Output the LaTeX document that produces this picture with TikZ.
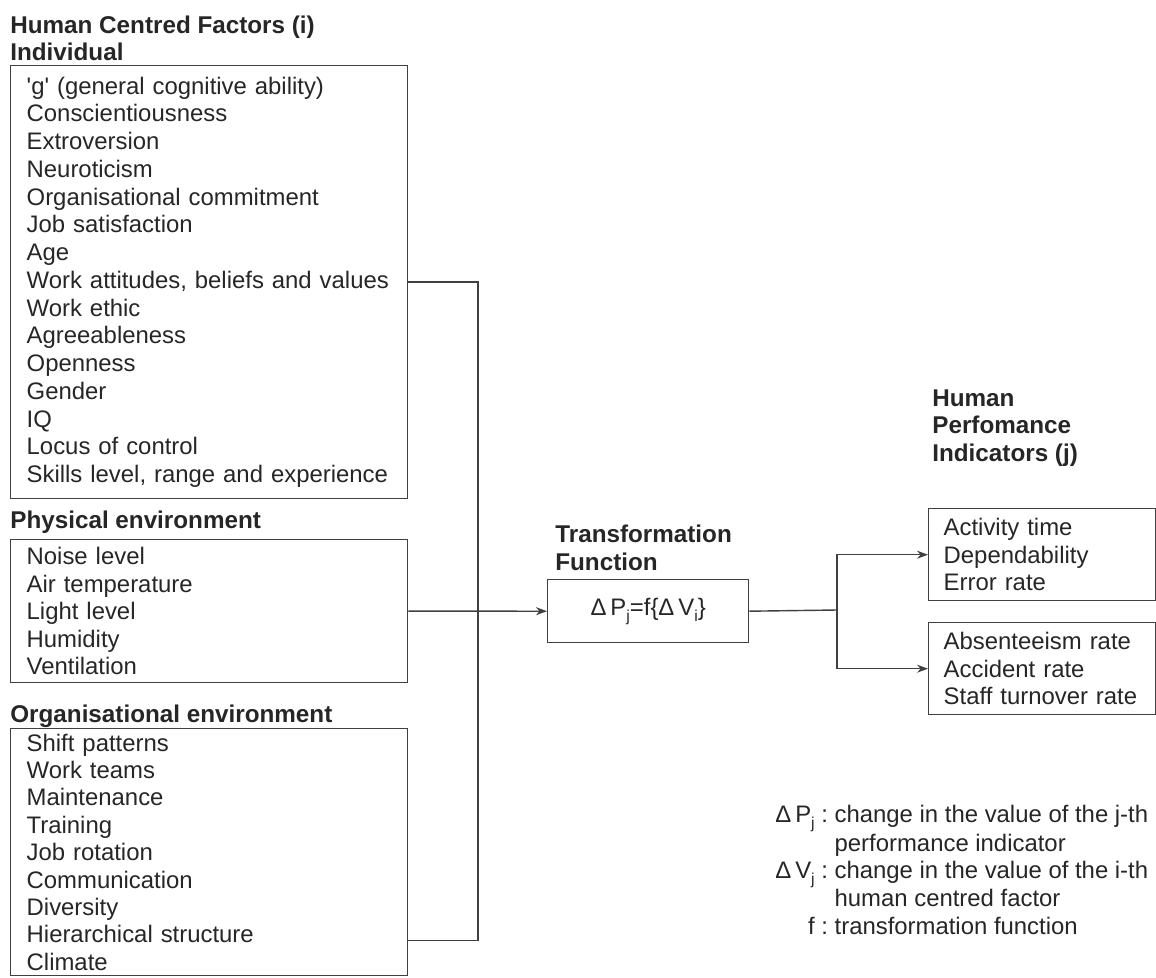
\documentclass[tikz,border=0pt]{standalone}
\usepackage{fontspec}
\setmainfont{Liberation Sans}
\usetikzlibrary{arrows.meta}
\usetikzlibrary{positioning}
\usetikzlibrary{calc}

\newcommand{\lowidx}[1]{\raisebox{-0.5ex}{\small #1}}

\begin{document}
\begin{tikzpicture}[x=0.02cm, y=-0.02cm,
    every node/.style={font=\fontsize{13.6}{15.8}\selectfont, text=black!85},
    head/.style={anchor=west, inner sep=0pt, align=left, font=\fontsize{13.8}{15.6}\selectfont\bfseries},
    factor box/.style={draw=black!75, line width=0.8pt, anchor=north west, align=left,
      text width=7.3cm, inner xsep=0.32cm, inner ysep=0pt},
    result box/.style={draw=black!75, line width=0.8pt, anchor=north west, align=left,
      text width=3.94cm, inner xsep=0.3cm, inner ysep=0pt, minimum height=1.84cm,
      font=\fontsize{13.6}{15.6}\selectfont},
    link/.style={draw=black!75, line width=0.8pt},
    tip/.style={-{Stealth[length=2.2mm, width=1.6mm]}},
  ]
  \useasboundingbox (0,0) rectangle (1156,977);

  % Left column: factor groups
  \node[head] (hcf) at (10,27) {Human Centred Factors (i)};
  \node[head] (indtitle) at (10,52) {Individual};
  \node[factor box, minimum height=8.66cm] (indiv) at (10,65) {%
    \textquotesingle g\textquotesingle\ (general cognitive ability)\\
    Conscientiousness\\
    Extroversion\\
    Neuroticism\\
    Organisational commitment\\
    Job satisfaction\\
    Age\\
    Work attitudes, beliefs and values\\
    Work ethic\\
    Agreeableness\\
    Openness\\
    Gender\\
    IQ\\
    Locus of control\\
    Skills level, range and experience};

  \node[head] (phystitle) at (10,522) {Physical environment};
  \node[factor box, minimum height=2.86cm, font=\fontsize{13.6}{15.6}\selectfont] (phys) at (10,539) {%
    Noise level\\
    Air temperature\\
    Light level\\
    Humidity\\
    Ventilation};

  \node[head] (orgtitle) at (10,716) {Organisational environment};
  \node[factor box, minimum height=4.94cm, font=\fontsize{13.6}{15.6}\selectfont] (org) at (10,728) {%
    Shift patterns\\
    Work teams\\
    Maintenance\\
    Training\\
    Job rotation\\
    Communication\\
    Diversity\\
    Hierarchical structure\\
    Climate};

  % Transformation function
  \node[head] (tftitle) at (555,548) {Transformation\\Function};
  \node[draw=black!75, line width=0.8pt, anchor=north west, minimum width=4.02cm,
    minimum height=1.26cm, inner sep=0pt] (tf) at (547,579)
    {Δ\,P\lowidx{j}=f\{Δ\,V\lowidx{i}\}};

  % Performance indicators
  \node[head] (hpi) at (932,428) {Human\\Perfomance\\Indicators (j)};
  \node[result box] (perfA) at (928,508) {%
    Activity time\\
    Dependability\\
    Error rate};
  \node[result box] (perfB) at (928,622) {%
    Absenteeism rate\\
    Accident rate\\
    Staff turnover rate};

  % Legend
  \node[anchor=north west, inner sep=0pt, font=\fontsize{13.6}{15.5}\selectfont] (legend) at (775,803) {%
    \begin{tabular}{@{}r@{\ }l@{}}
      Δ\,P\lowidx{j} : & change in the value of the j-th\\
                       & performance indicator\\
      Δ\,V\lowidx{j} : & change in the value of the i-th\\
                       & human centred factor\\
      f : & transformation function
    \end{tabular}};

  % Connectors
  \coordinate (join) at (478,610);
  \coordinate (orgout) at ($(org.south east)+(0,-36)$);
  \coordinate (split) at (837,610);

  \draw[link] (indiv.east) -| (join);
  \draw[link] (orgout) -| (join);
  \draw[link, tip] (phys.east) -- (tf.west);
  \draw[link] (tf.east) -- (split);
  \draw[link, tip] (split) |- (perfA.west);
  \draw[link, tip] (split) |- (perfB.west);

\end{tikzpicture}
\end{document}
